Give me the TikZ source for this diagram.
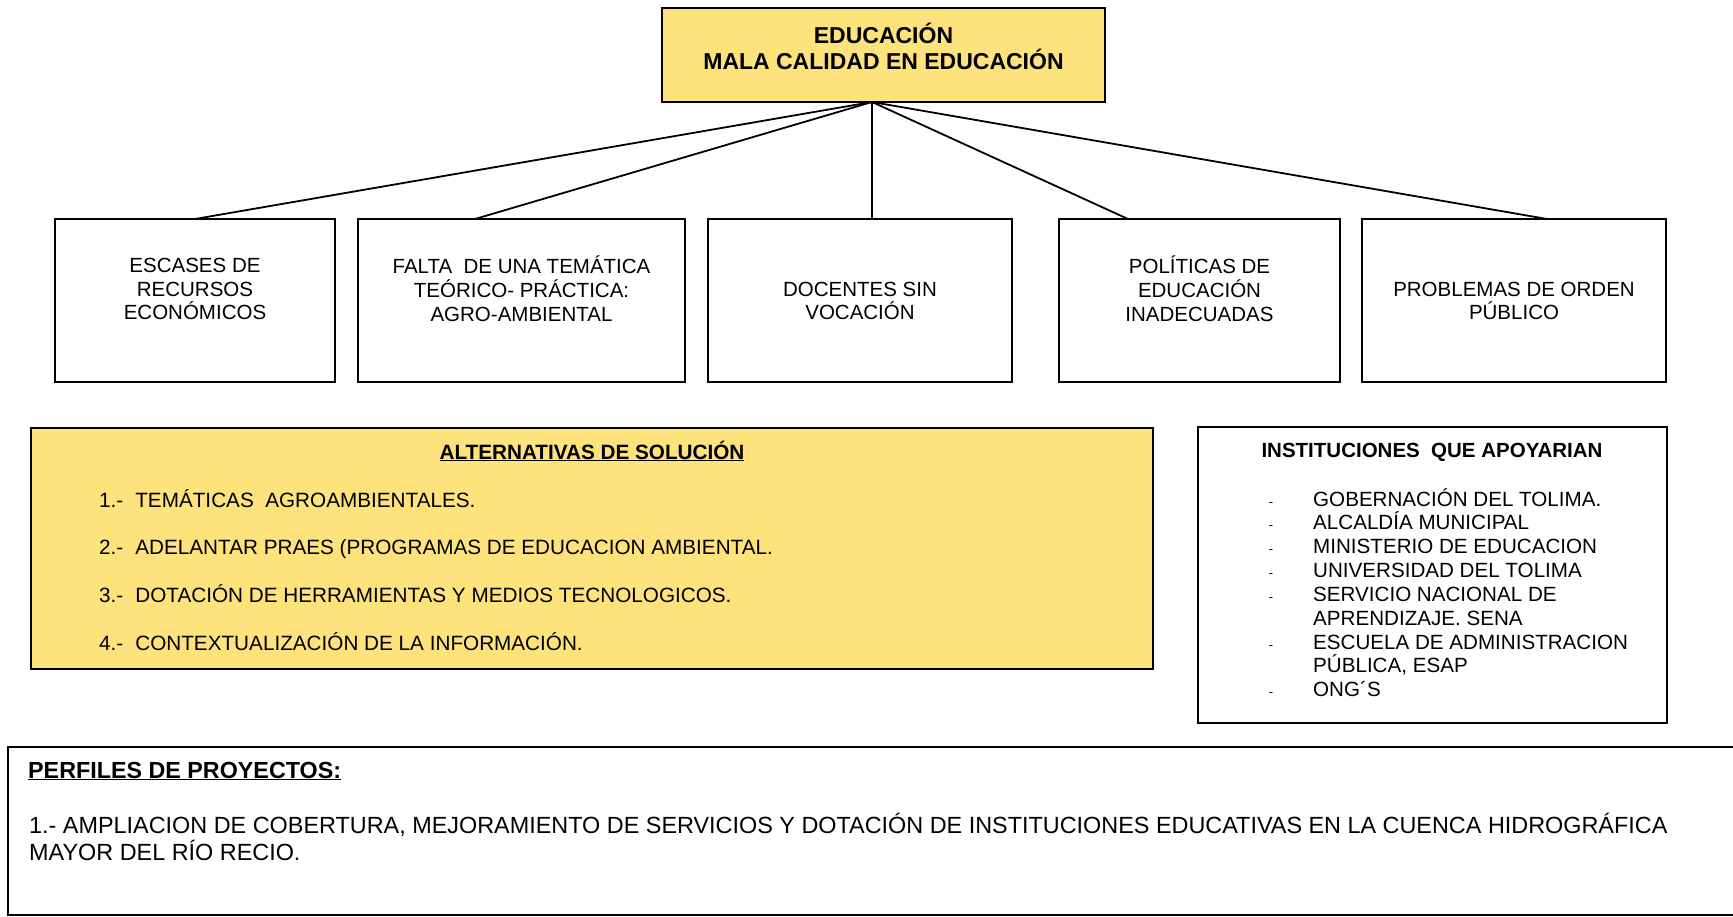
\documentclass[tikz,border=0pt]{standalone}
\usepackage{fontspec}
\setmainfont{Liberation Sans}
\definecolor{ylw}{RGB}{254,227,124}
\begin{document}
\begin{tikzpicture}[x=1pt,y=-1pt,
  box/.style={draw=black, line width=1.8pt, inner sep=0pt, outer sep=0pt},
  ybox/.style={box, fill=ylw},
  link/.style={line width=1.8pt},
  ctxt/.style={inner sep=0pt, align=center, font=\fontsize{20.5}{23.8}\selectfont},
  item/.style={inner sep=0pt, anchor=base west, font=\fontsize{20.7}{24}\selectfont},
  head/.style={inner sep=0pt, anchor=base, font=\bfseries\fontsize{20.7}{24}\selectfont}]
\useasboundingbox (0,0) rectangle (1733,917);

% top box
\node[ybox, minimum width=443pt, minimum height=94pt] (top) at (883.5,55) {};
\node[inner sep=0pt, align=center, font=\bfseries\fontsize{23}{26.5}\selectfont] (toptxt) at (883.5,46.5) {EDUCACIÓN\\MALA CALIDAD EN EDUCACIÓN};

% cause boxes
\node[box, minimum width=280pt, minimum height=163pt] (c1) at (195,300.5) {};
\node[box, minimum width=327pt, minimum height=163pt] (c2) at (521.5,300.5) {};
\node[box, minimum width=304pt, minimum height=163pt] (c3) at (860,300.5) {};
\node[box, minimum width=281pt, minimum height=163pt] (c4) at (1199.5,300.5) {};
\node[box, minimum width=304pt, minimum height=163pt] (c5) at (1514,300.5) {};

\node[ctxt] (t1) at (195,289) {ESCASES DE\\RECURSOS\\ECONÓMICOS};
\node[ctxt] (t2) at (521.5,289) {FALTA\ \ DE UNA TEMÁTICA\\TEÓRICO- PRÁCTICA:\\AGRO-AMBIENTAL};
\node[ctxt] (t3) at (860,301) {DOCENTES SIN\\VOCACIÓN};
\node[ctxt] (t4) at (1199.5,289) {POLÍTICAS DE\\EDUCACIÓN\\INADECUADAS};
\node[ctxt] (t5) at (1514,301) {PROBLEMAS DE ORDEN\\PÚBLICO};

% connectors
\coordinate (apex) at ([xshift=-11.5pt]top.south);
\draw[link] (apex) -- (c1.north);
\draw[link] (apex) -- ([xshift=-46.5pt]c2.north);
\draw[link] (apex) -- ([xshift=12pt]c3.north);
\draw[link] (apex) -- ([xshift=-71.5pt]c4.north);
\draw[link] (apex) -- ([xshift=33pt]c5.north);

% alternatives
\node[ybox, minimum width=1122pt, minimum height=241pt] (alt) at (592,548.5) {};
\node[head] (altt) at (592,459) {\underline{ALTERNATIVAS DE SOLUCIÓN}};
\node[item] (a1) at (99,507) {1.-\hspace{12pt}TEMÁTICAS\ \ AGROAMBIENTALES.};
\node[item] (a2) at (99,554) {2.-\hspace{12pt}ADELANTAR PRAES (PROGRAMAS DE EDUCACION AMBIENTAL.};
\node[item] (a3) at (99,602) {3.-\hspace{12pt}DOTACIÓN DE HERRAMIENTAS Y MEDIOS TECNOLOGICOS.};
\node[item] (a4) at (99,650) {4.-\hspace{12pt}CONTEXTUALIZACIÓN DE LA INFORMACIÓN.};

% institutions
\node[box, minimum width=469pt, minimum height=296pt] (inst) at (1432.5,575) {};
\node[head, font=\bfseries\fontsize{20.5}{24}\selectfont] (instt) at (1432,457.5) {INSTITUCIONES\ \ QUE APOYARIAN};
\foreach \k/\r in {1/0,2/1,3/2,4/3,5/4,6/6,7/8}{
  \node[inner sep=0pt, anchor=base, font=\fontsize{13}{13}\selectfont] (d\k) at (1271,506+\r*23.85) {-};
}
\node[inner sep=0pt, anchor=base west, align=left, font=\fontsize{20.6}{23.85}\selectfont] (instl) at (1313,696.8)
 {GOBERNACIÓN DEL TOLIMA.\\ALCALDÍA MUNICIPAL\\MINISTERIO DE EDUCACION\\UNIVERSIDAD DEL TOLIMA\\SERVICIO NACIONAL DE\\APRENDIZAJE. SENA\\ESCUELA DE ADMINISTRACION\\PÚBLICA, ESAP\\ONG´S};

% project profiles
\node[box, minimum width=1760pt, minimum height=168pt, anchor=north west] (perf) at (8,747) {};
\node[inner sep=0pt, anchor=base west, font=\bfseries\fontsize{23.3}{26}\selectfont] (perft) at (28,778) {\underline{PERFILES DE PROYECTOS:}};
\node[inner sep=0pt, anchor=base west, align=left, font=\fontsize{23.4}{27}\selectfont] (perfl) at (29,860.5)
 {1.- AMPLIACION DE COBERTURA, MEJORAMIENTO DE SERVICIOS Y DOTACIÓN DE INSTITUCIONES EDUCATIVAS EN LA CUENCA HIDROGRÁFICA\\MAYOR DEL RÍO RECIO.};
\end{tikzpicture}
\end{document}
